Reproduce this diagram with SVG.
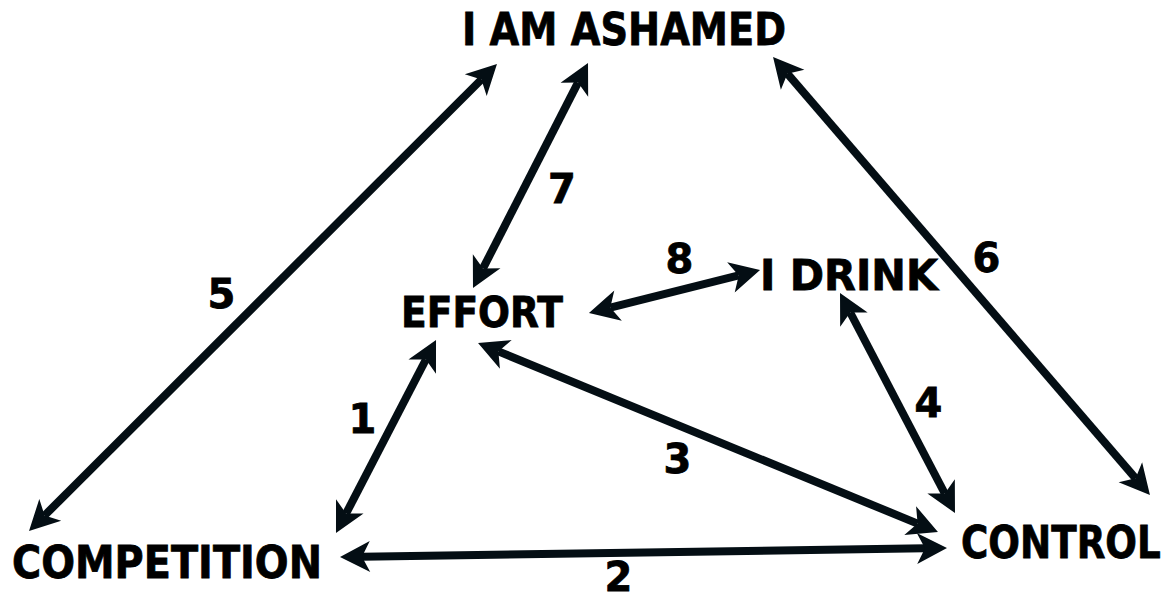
<svg xmlns="http://www.w3.org/2000/svg" width="1172" height="599" viewBox="0 0 1172 599">
<style>
.lbl{font-family:"DejaVu Sans","Verdana","Liberation Sans",sans-serif;font-weight:bold;fill:#000;stroke:#000;stroke-width:0.8}
.num{font-family:"DejaVu Sans","Verdana","Liberation Sans",sans-serif;font-weight:bold;fill:#000;stroke:#000;stroke-width:0.8;font-size:40px;text-anchor:middle}
.con{stroke:#040e14;stroke-width:8;fill:none;marker-start:url(#ah);marker-end:url(#ah)}
</style>
<defs>
<marker id="ah" markerUnits="userSpaceOnUse" markerWidth="44" markerHeight="44" viewBox="-12 -22 44 44" refX="0" refY="0" orient="auto-start-reverse">
<path d="M22,0 L-8,-15.5 L0,0 L-8,15.5 Z" fill="#040e14"/>
</marker>
</defs>
<rect width="1172" height="599" fill="#fff"/>
<g id="connectors">
<line class="con" x1="44.6" y1="515.5" x2="481.4" y2="79.5"/>
<line class="con" x1="483.0" y1="268.4" x2="578.0" y2="82.6"/>
<line class="con" x1="346.1" y1="513.5" x2="425.9" y2="359.5"/>
<line class="con" x1="787.4" y1="73.7" x2="1135.6" y2="478.3"/>
<line class="con" x1="850.2" y1="312.5" x2="944.8" y2="493.5"/>
<line class="con" x1="610.3" y1="307.6" x2="738.7" y2="275.4"/>
<line class="con" x1="498.4" y1="351.4" x2="917.6" y2="523.6"/>
<line class="con" x1="362" y1="556.7" x2="925" y2="548.3"/>
</g>
<g id="labels">
<text class="num" x="221.5" y="308">5</text>
<text class="num" x="562" y="203">7</text>
<text class="num" x="986.5" y="272">6</text>
<text class="num" x="362.5" y="433">1</text>
<text class="num" x="677.5" y="473">3</text>
<text class="num" x="618.5" y="591">2</text>
<text class="num" x="928.5" y="417">4</text>
<text class="num" x="679.5" y="273">8</text>
</g>
<g id="node-ashamed"><text class="lbl" x="462" y="45" font-size="44" textLength="324" lengthAdjust="spacingAndGlyphs">I AM ASHAMED</text></g>
<g id="node-effort"><text class="lbl" x="401" y="327" font-size="42" textLength="162" lengthAdjust="spacingAndGlyphs">EFFORT</text></g>
<g id="node-drink"><text class="lbl" x="760" y="290" font-size="42" textLength="178" lengthAdjust="spacingAndGlyphs">I DRINK</text></g>
<g id="node-competition"><text class="lbl" x="12" y="578" font-size="44" textLength="310" lengthAdjust="spacingAndGlyphs">COMPETITION</text></g>
<g id="node-control"><text class="lbl" transform="translate(961,558) scale(0.85,1)" x="0" y="0" font-size="44" textLength="235" lengthAdjust="spacingAndGlyphs">CONTROL</text></g>
</svg>
